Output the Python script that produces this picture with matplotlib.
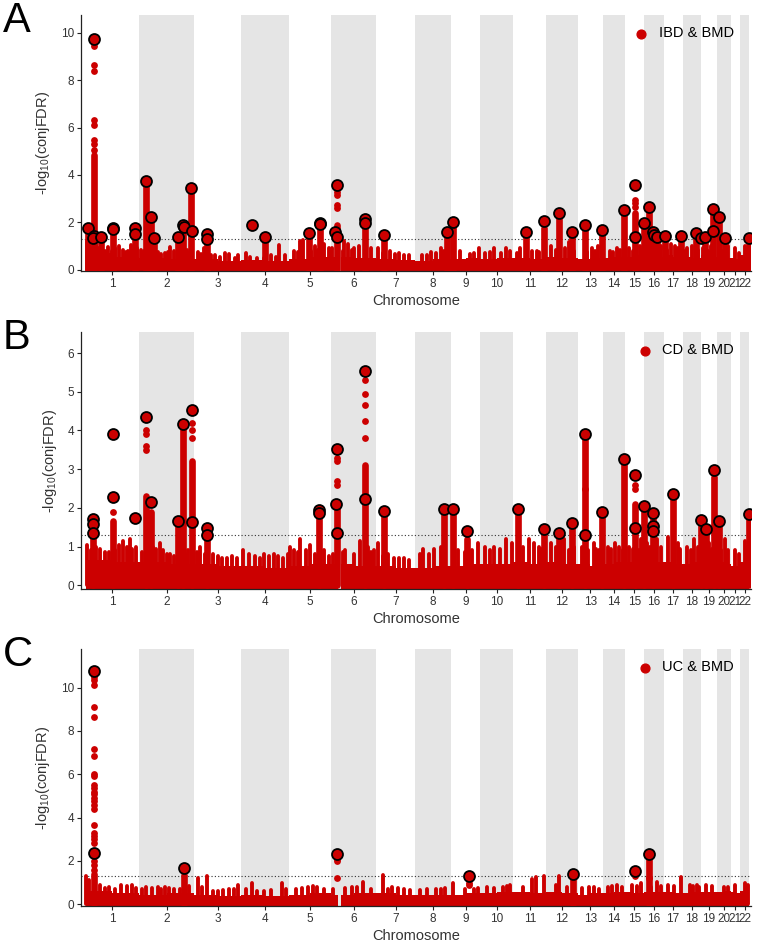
import matplotlib.pyplot as plt
import numpy as np

plt.rcParams['font.family'] = ['Liberation Sans', 'DejaVu Sans']
plt.rcParams['mathtext.default'] = 'regular'

RED = '#CC0000'
BAND = '#E5E5E5'

# chromosome spans in Mb
chrom_len = [228, 238, 201, 208, 179, 194, 168, 155, 125, 143, 141, 136,
             108, 93, 85, 83, 82, 80, 67, 60, 40, 40]
chrom_names = [str(i) for i in range(1, 23)]
mhc_gap = (31, 41)  # chr6 stretch without SNPs

# ---------------- A: IBD & BMD ----------------
# dense low mass: height over first / second half of each chromosome
base_A = [(0.7, 0.55), (0.5, 0.45), (0.45, 0.35), (0.4, 0.35), (0.45, 0.55),
          (0.55, 0.5), (0.45, 0.4), (0.35, 0.45), (0.45, 0.5), (0.45, 0.5),
          (0.5, 0.45), (0.55, 0.5), (0.45, 0.5), (0.5, 0.55), (0.55, 0.6),
          (0.6, 0.55), (0.6, 0.55), (0.55, 0.5), (0.6, 0.55), (0.55, 0.5),
          (0.5, 0.45), (0.6, 0.65)]
spike_A = [(1, 3, 1.2), (1, 15, 1.15), (1, 45, 1.05), (1, 55, 0.9), (1, 80, 0.8),
           (1, 95, 0.95), (1, 140, 1.0), (1, 160, 0.85), (1, 180, 0.8), (1, 195, 1.05),
           (1, 220, 0.9), (2, 10, 0.85), (2, 60, 0.9), (2, 80, 0.75), (2, 110, 0.7),
           (2, 135, 0.95), (2, 150, 0.8), (2, 205, 0.85), (2, 215, 0.7), (3, 15, 0.75),
           (3, 40, 0.9), (3, 90, 0.6), (3, 130, 0.7), (3, 150, 0.65), (3, 175, 0.5),
           (4, 20, 0.7), (4, 70, 0.5), (4, 130, 0.6), (4, 164, 1.05), (4, 190, 0.6),
           (5, 20, 0.8), (5, 45, 1.2), (5, 60, 1.25), (5, 110, 1.0), (5, 150, 1.1),
           (5, 170, 0.9), (6, 5, 0.9), (6, 55, 1.2), (6, 75, 1.1), (6, 100, 0.9),
           (6, 120, 1.0), (6, 170, 0.9), (7, 10, 0.9), (7, 60, 0.8), (7, 100, 0.7),
           (7, 140, 0.6), (8, 30, 0.6), (8, 70, 0.75), (8, 110, 0.9), (8, 125, 0.8),
           (9, 40, 0.8), (9, 100, 0.7), (9, 118, 0.9), (10, 20, 0.7), (10, 60, 0.9),
           (10, 110, 0.9), (10, 130, 0.8), (11, 30, 0.9), (11, 80, 0.8), (11, 110, 0.75),
           (12, 20, 1.0), (12, 80, 0.9), (12, 100, 1.15), (13, 60, 0.9), (13, 85, 1.0),
           (14, 30, 0.8), (14, 60, 0.9), (15, 20, 0.9), (15, 65, 1.0), (16, 8, 1.0),
           (16, 70, 1.0), (17, 30, 1.1), (17, 50, 1.0), (18, 20, 0.9), (18, 40, 1.0),
           (19, 8, 0.9), (19, 40, 1.0), (20, 22, 0.8), (20, 50, 1.0), (21, 20, 0.9),
           (22, 20, 1.0),
           (1, 30, 0.95), (1, 70, 0.75), (1, 110, 0.8), (1, 125, 0.9), (1, 170, 0.75),
           (1, 205, 0.85), (2, 20, 0.8), (2, 40, 0.7), (2, 95, 0.65), (2, 125, 0.75),
           (2, 175, 0.7), (2, 195, 0.8), (3, 30, 0.65), (3, 70, 0.6), (3, 110, 0.55),
           (3, 190, 0.6), (4, 40, 0.55), (4, 100, 0.5), (4, 150, 0.55), (5, 35, 0.75),
           (5, 95, 0.8), (5, 125, 0.85), (6, 50, 0.8), (6, 90, 0.85), (6, 150, 0.8),
           (7, 30, 0.7), (7, 80, 0.65), (7, 120, 0.6), (8, 50, 0.6), (8, 90, 0.7),
           (9, 80, 0.65), (10, 40, 0.75), (10, 90, 0.7), (11, 15, 0.7), (11, 60, 0.75),
           (11, 100, 0.8), (12, 40, 0.85), (12, 120, 0.8), (13, 40, 0.75), (13, 75, 0.8),
           (14, 45, 0.75), (14, 75, 0.85), (15, 35, 0.8), (15, 75, 0.85), (16, 30, 0.85),
           (16, 60, 0.8), (17, 15, 0.85), (17, 60, 0.9), (18, 10, 0.8), (18, 65, 0.85),
           (19, 30, 0.8), (20, 40, 0.85), (21, 35, 0.7), (22, 30, 0.85)]
col_A = [(1, 7, 1.6), (1, 33, 4.85), (1, 64, 1.3), (1, 117, 1.7), (1, 211, 1.7),
         (2, 29, 3.6), (2, 50, 2.1), (2, 66, 1.3), (2, 168, 1.35), (2, 189, 1.8),
         (2, 225, 3.35), (3, 55, 1.45), (4, 103, 1.3), (5, 86, 1.45), (5, 131, 1.9),
         (6, 26, 1.9), (6, 145, 1.95), (7, 36, 1.45), (8, 135, 1.5), (9, 7, 1.95),
         (11, 53, 1.5), (11, 133, 1.75), (12, 53, 2.2), (12, 113, 1.55), (13, 30, 1.8),
         (13, 103, 1.6), (14, 89, 2.45), (15, 46, 2.4), (15, 84, 1.9), (16, 19, 2.55),
         (16, 37, 1.55), (16, 55, 1.35), (17, 4, 1.35), (17, 73, 1.35), (18, 58, 1.45),
         (19, 17, 1.3), (19, 49, 2.45), (20, 10, 2.1), (20, 36, 1.3), (22, 39, 1.3)]
dot_A = [(1, 33, [9.55, 9.45, 8.62, 8.38, 6.3, 6.1, 5.47, 5.3, 5.05]),
         (6, 26, [3.29, 3.15, 2.73, 2.6]),
         (15, 46, [2.94, 2.8, 2.66])]
lead_A = [(1, 7, 1.75), (1, 33, 9.72), (1, 33, 1.44), (1, 29, 1.33), (1, 64, 1.37),
          (1, 117, 1.78), (1, 118, 1.72), (1, 211, 1.75), (1, 211, 1.50),
          (2, 29, 3.74), (2, 50, 2.21), (2, 66, 1.35), (2, 168, 1.40), (2, 189, 1.87),
          (2, 195, 1.79), (2, 225, 3.43), (2, 227, 1.65), (3, 55, 1.50), (3, 55, 1.31),
          (4, 49, 1.87), (4, 103, 1.37), (5, 86, 1.54), (5, 131, 1.98), (5, 131, 1.93),
          (6, 26, 3.59), (6, 19, 1.57), (6, 26, 1.37), (6, 145, 2.15), (6, 145, 1.99),
          (7, 36, 1.48), (8, 135, 1.57), (9, 7, 2.03), (11, 53, 1.58), (11, 133, 2.07),
          (12, 53, 2.38), (12, 113, 1.61), (13, 30, 1.87), (13, 103, 1.68),
          (14, 89, 2.52), (15, 46, 3.59), (15, 46, 1.40), (15, 84, 1.99),
          (16, 19, 2.63), (16, 37, 1.61), (16, 43, 1.47), (16, 55, 1.40),
          (17, 4, 1.42), (17, 73, 1.42), (18, 58, 1.54), (18, 79, 1.33),
          (19, 17, 1.38), (19, 49, 2.55), (19, 49, 1.65), (20, 10, 2.21),
          (20, 36, 1.34), (22, 39, 1.33)]

# ---------------- B: CD & BMD ----------------
base_B = [(0.65, 0.6), (0.6, 0.55), (0.55, 0.5), (0.5, 0.45), (0.5, 0.55),
          (0.55, 0.5), (0.5, 0.45), (0.45, 0.5), (0.5, 0.55), (0.55, 0.55),
          (0.6, 0.55), (0.6, 0.55), (0.55, 0.5), (0.55, 0.6), (0.6, 0.6),
          (0.6, 0.6), (0.6, 0.55), (0.55, 0.6), (0.6, 0.6), (0.6, 0.55),
          (0.5, 0.5), (0.6, 0.7)]
spike_B = [(1, 5, 1.05), (1, 45, 1.0), (1, 80, 0.85), (1, 140, 1.05), (1, 160, 1.15),
           (1, 190, 1.2), (1, 215, 1.0), (2, 60, 1.0), (2, 90, 1.1), (2, 120, 0.8),
           (2, 150, 0.75), (2, 210, 0.9), (3, 25, 1.0), (3, 80, 0.8), (3, 120, 0.7),
           (3, 160, 0.75), (4, 10, 0.9), (4, 60, 0.75), (4, 100, 0.8), (4, 140, 0.8),
           (4, 180, 0.7), (5, 3, 1.0), (5, 20, 0.9), (5, 46, 1.2), (5, 90, 1.05),
           (5, 150, 0.9), (6, 10, 0.8), (6, 60, 0.9), (6, 125, 1.15), (6, 160, 1.0),
           (6, 185, 0.9), (7, 10, 1.1), (7, 50, 0.8), (7, 100, 0.7), (7, 140, 0.65),
           (8, 20, 0.8), (8, 34, 0.95), (8, 83, 0.95), (8, 110, 1.0), (9, 30, 0.9),
           (9, 90, 0.9), (9, 116, 1.1), (10, 20, 1.0), (10, 60, 1.0), (10, 110, 1.2),
           (10, 135, 1.1), (11, 67, 1.2), (11, 90, 1.1), (11, 110, 1.0), (12, 20, 1.1),
           (12, 75, 1.2), (12, 100, 0.9), (13, 20, 1.0), (13, 70, 1.1), (13, 90, 0.9),
           (14, 20, 1.0), (14, 50, 1.1), (14, 70, 1.0), (15, 20, 1.0), (15, 70, 1.2),
           (16, 10, 1.1), (16, 55, 1.2), (16, 70, 1.0), (17, 20, 1.25), (17, 60, 1.1),
           (18, 20, 1.0), (18, 50, 1.2), (19, 10, 1.0), (19, 35, 1.1), (20, 36, 1.2),
           (20, 50, 0.9), (21, 20, 0.9), (22, 20, 1.15),
           (1, 20, 0.9), (1, 60, 0.95), (1, 100, 0.85), (1, 125, 0.9), (1, 175, 1.0),
           (1, 200, 0.95), (2, 15, 0.85), (2, 40, 0.9), (2, 75, 0.95), (2, 105, 0.9),
           (2, 135, 0.8), (2, 180, 0.85), (2, 200, 0.8), (3, 10, 0.85), (3, 45, 0.8),
           (3, 100, 0.75), (3, 140, 0.7), (3, 185, 0.7), (4, 35, 0.8), (4, 80, 0.7),
           (4, 120, 0.75), (4, 160, 0.75), (4, 200, 0.8), (5, 35, 0.85), (5, 70, 0.9),
           (5, 110, 0.8), (5, 170, 0.75), (6, 50, 0.85), (6, 100, 0.8), (6, 170, 0.85),
           (7, 30, 0.75), (7, 75, 0.7), (7, 120, 0.7), (8, 60, 0.8), (8, 130, 0.85),
           (9, 60, 0.85), (10, 40, 0.9), (10, 85, 0.95), (11, 40, 1.0), (11, 120, 0.95),
           (12, 40, 1.0), (12, 120, 1.0), (13, 45, 0.9), (13, 80, 0.95), (14, 35, 0.95),
           (14, 85, 0.9), (15, 35, 0.95), (15, 60, 0.9), (16, 25, 1.0), (16, 45, 0.95),
           (17, 45, 1.0), (17, 70, 0.95), (18, 35, 0.9), (18, 65, 1.0), (19, 45, 0.95),
           (20, 20, 0.9), (21, 35, 0.8), (22, 30, 1.0)]
col_B = [(1, 31, 1.3), (1, 117, 1.65), (2, 29, 2.3), (2, 50, 1.9), (2, 166, 1.6),
         (2, 190, 4.1), (2, 226, 3.2), (3, 53, 1.3), (5, 129, 1.85), (6, 26, 2.1),
         (6, 145, 3.1), (7, 36, 1.85), (8, 125, 1.9), (9, 7, 1.9), (9, 67, 1.2),
         (11, 21, 1.9), (11, 133, 1.4), (12, 54, 1.3), (12, 113, 1.55), (13, 31, 3.8),
         (13, 103, 1.85), (14, 89, 3.2), (15, 46, 2.1), (15, 84, 1.95), (16, 37, 1.85),
         (17, 40, 2.3), (18, 78, 1.6), (19, 20, 1.4), (19, 53, 2.8), (20, 10, 1.6),
         (22, 40, 1.8)]
dot_B = [(1, 117, [1.9]), (2, 29, [4.0, 3.9, 3.6, 3.5]), (2, 226, [4.2, 4.0, 3.8]),
         (6, 145, [5.3, 4.95, 4.65, 4.25, 3.8]), (6, 26, [3.3, 3.2, 2.7, 2.6]),
         (15, 46, [2.6, 2.5]), (13, 31, [2.5])]
lead_B = [(1, 31, 1.71), (1, 32, 1.59), (1, 31, 1.34), (1, 117, 3.91), (1, 117, 2.28),
          (1, 211, 1.74), (2, 29, 4.34), (2, 50, 2.16), (2, 166, 1.67), (2, 190, 4.16),
          (2, 226, 4.54), (2, 226, 1.63), (3, 53, 1.48), (3, 53, 1.29), (5, 129, 1.95),
          (5, 129, 1.88), (6, 26, 3.52), (6, 20, 2.10), (6, 26, 1.36), (6, 145, 5.55),
          (6, 145, 2.24), (7, 36, 1.92), (8, 125, 1.98), (9, 7, 1.98), (9, 67, 1.39),
          (11, 21, 1.97), (11, 133, 1.46), (12, 54, 1.34), (12, 113, 1.60),
          (13, 31, 3.91), (13, 31, 1.29), (13, 103, 1.90), (14, 89, 3.27),
          (15, 46, 2.84), (15, 46, 1.47), (15, 84, 2.04), (16, 37, 1.88),
          (16, 37, 1.52), (16, 37, 1.41), (17, 40, 2.37), (18, 78, 1.69),
          (19, 20, 1.45), (19, 53, 2.99), (20, 10, 1.65), (22, 40, 1.84)]

# ---------------- C: UC & BMD ----------------
base_C = [(0.6, 0.5), (0.45, 0.5), (0.45, 0.4), (0.45, 0.4), (0.45, 0.5),
          (0.45, 0.5), (0.5, 0.45), (0.45, 0.45), (0.45, 0.5), (0.5, 0.55),
          (0.55, 0.5), (0.55, 0.5), (0.45, 0.5), (0.5, 0.55), (0.55, 0.5),
          (0.55, 0.55), (0.55, 0.5), (0.5, 0.55), (0.55, 0.55), (0.55, 0.6),
          (0.55, 0.5), (0.6, 0.65)]
spike_C = [(1, 2, 1.3), (1, 15, 1.1), (1, 60, 0.9), (1, 100, 0.8), (1, 150, 0.9),
           (1, 200, 0.9), (2, 30, 0.8), (2, 80, 0.8), (2, 110, 0.8), (2, 150, 0.7),
           (2, 215, 0.85), (3, 16, 1.2), (3, 55, 1.32), (3, 100, 0.6), (3, 150, 0.7),
           (3, 190, 0.9), (4, 46, 0.97), (4, 100, 0.6), (4, 175, 0.97), (5, 30, 0.7),
           (5, 80, 0.8), (5, 120, 0.8), (6, 10, 0.7), (6, 90, 0.8), (6, 138, 1.05),
           (7, 31, 1.35), (7, 70, 0.8), (7, 120, 0.7), (8, 50, 0.7), (8, 90, 0.7),
           (8, 130, 0.75), (9, 7, 1.0), (9, 100, 0.7), (10, 30, 0.8), (10, 100, 0.8),
           (10, 130, 0.9), (11, 79, 1.15), (11, 97, 1.28), (11, 133, 1.3), (12, 40, 0.9),
           (12, 53, 1.3), (13, 50, 0.8), (13, 90, 0.7), (14, 20, 0.8), (14, 60, 0.9),
           (15, 30, 0.9), (15, 70, 1.0), (16, 54, 1.05), (17, 20, 0.9), (17, 73, 1.25),
           (18, 30, 0.9), (18, 60, 0.9), (19, 20, 0.9), (20, 30, 0.8), (21, 20, 0.9),
           (22, 20, 1.0),
           (1, 40, 0.8), (1, 80, 0.75), (1, 125, 0.7), (1, 175, 0.85), (1, 215, 0.75),
           (2, 15, 0.7), (2, 55, 0.75), (2, 95, 0.7), (2, 130, 0.75), (2, 175, 0.7),
           (3, 35, 0.8), (3, 80, 0.6), (3, 125, 0.65), (3, 170, 0.7), (4, 20, 0.7),
           (4, 70, 0.6), (4, 130, 0.65), (4, 195, 0.7), (5, 55, 0.75), (5, 100, 0.85),
           (5, 150, 0.7), (6, 60, 0.75), (6, 110, 0.8), (6, 170, 0.7), (7, 50, 0.7),
           (7, 95, 0.75), (7, 145, 0.65), (8, 20, 0.65), (8, 110, 0.7), (9, 60, 0.7),
           (9, 115, 0.75), (10, 60, 0.75), (10, 115, 0.85), (11, 40, 0.8), (12, 90, 0.8),
           (12, 120, 0.85), (13, 20, 0.75), (13, 70, 0.8), (14, 40, 0.85), (14, 80, 0.8),
           (15, 55, 0.85), (16, 30, 0.8), (16, 70, 0.85), (17, 45, 0.85), (18, 45, 0.85),
           (18, 70, 0.8), (19, 45, 0.85), (20, 50, 0.8), (22, 35, 0.9)]
col_C = [(1, 33, 1.4), (2, 192, 1.35), (12, 115, 1.3), (16, 20, 2.2)]
dot_C = [(1, 33, [10.5, 10.35, 10.1, 9.1, 8.65, 7.15, 6.85, 6.0, 5.9, 5.5, 5.35, 5.2,
                  5.1, 4.9, 4.75, 4.6, 4.4, 3.65, 3.3, 3.15, 3.0, 2.85, 2.0, 1.8, 1.6]),
         (6, 26, [2.1, 2.0, 1.2]), (9, 76, [1.0, 0.9]), (15, 46, [1.4, 1.3]),
         (16, 20, [1.2])]
lead_C = [(1, 33, 10.77), (1, 33, 2.35), (2, 192, 1.69), (6, 26, 2.31), (9, 76, 1.32),
          (12, 115, 1.42), (15, 46, 1.54), (16, 20, 2.31)]

threshold = -np.log10(0.05)

panels = [
    dict(tag='A', name='IBD & BMD', base=base_A, spike=spike_A, col=col_A, dot=dot_A,
         lead=lead_A, ylim=(-0.055, 10.75), yticks=[0, 2, 4, 6, 8, 10], box=(15, 271)),
    dict(tag='B', name='CD & BMD', base=base_B, spike=spike_B, col=col_B, dot=dot_B,
         lead=lead_B, ylim=(-0.096, 6.545), yticks=[0, 1, 2, 3, 4, 5, 6], box=(332, 589)),
    dict(tag='C', name='UC & BMD', base=base_C, spike=spike_C, col=col_C, dot=dot_C,
         lead=lead_C, ylim=(-0.078, 11.78), yticks=[0, 2, 4, 6, 8, 10], box=(649, 906)),
]

starts = np.concatenate([[0], np.cumsum(chrom_len)[:-1]])
ends = starts + np.array(chrom_len)
mids = (starts + ends) / 2


def gpos(c, mb):
    return starts[c - 1] + mb


W, H = 758, 947
fig = plt.figure(figsize=(W / 100, H / 100), dpi=100)

for p in panels:
    top, bot = p['box']
    ax = fig.add_axes([81 / W, 1 - bot / H, 670 / W, (bot - top) / H])
    y0 = p['ylim'][0]

    for i in range(1, 22, 2):
        ax.axvspan(starts[i], ends[i], color=BAND, lw=0, zorder=0)

    # dense low-significance mass, two heights per chromosome
    for i, (h1, h2) in enumerate(p['base']):
        half = chrom_len[i] / 2
        pieces = [(0, half, h1), (half, chrom_len[i], h2)]
        if i == 5:
            pieces = [(0, mhc_gap[0], h1), (mhc_gap[1], half, h1),
                      (half, chrom_len[i], h2)]
        for a, b, h in pieces:
            ax.bar(starts[i] + a, h - y0, bottom=y0, width=b - a, align='edge',
                   color=RED, lw=0, zorder=2)

    sx = [gpos(c, m) for c, m, v in p['spike']]
    sv = [v for c, m, v in p['spike']]
    ax.vlines(sx, 0, sv, colors=RED, linewidth=2.8, capstyle='round', zorder=2)

    cx = [gpos(c, m) for c, m, v in p['col']]
    cv = [v for c, m, v in p['col']]
    ax.vlines(cx, 0, cv, colors=RED, linewidth=4.8, capstyle='round', zorder=3)

    for c, m, vals in p['dot']:
        ax.scatter([gpos(c, m)] * len(vals), vals, s=24, color=RED, lw=0, zorder=3)

    ax.axhline(threshold, color='#333333', lw=0.8, ls=(0, (1, 2)), zorder=1.5)

    lx = [gpos(c, m) for c, m, v in p['lead']]
    lv = [v for c, m, v in p['lead']]
    ax.scatter(lx, lv, s=62, facecolor=RED, edgecolor='black', lw=1.3, zorder=4)

    ax.scatter([], [], s=40, color=RED, label=p['name'])
    ax.legend(loc='upper right', frameon=False, fontsize=10.5, handletextpad=0.2,
              borderaxespad=0.3, bbox_to_anchor=(0.99, 0.995))

    ax.set_xlim(-21.5, 2861)
    ax.set_ylim(*p['ylim'])
    ax.set_xticks(mids)
    ax.set_xticklabels(chrom_names)
    ax.set_yticks(p['yticks'])
    ax.tick_params(labelsize=8.5, length=3, width=0.8, pad=2, colors='#222222',
                   labelcolor='#333333')
    for s in ['top', 'right']:
        ax.spines[s].set_visible(False)
    for s in ['left', 'bottom']:
        ax.spines[s].set_color('#222222')
        ax.spines[s].set_linewidth(0.9)
    ax.set_xlabel('Chromosome', fontsize=10.5, color='#333333', labelpad=3)
    ax.set_ylabel('-log$_{10}$(conjFDR)', fontsize=10.5, color='#333333', labelpad=6)

    fig.text(3 / W, 1 - (top + 6) / H, p['tag'], fontsize=30, va='center', ha='left')

fig.savefig('out.png', dpi=100)
